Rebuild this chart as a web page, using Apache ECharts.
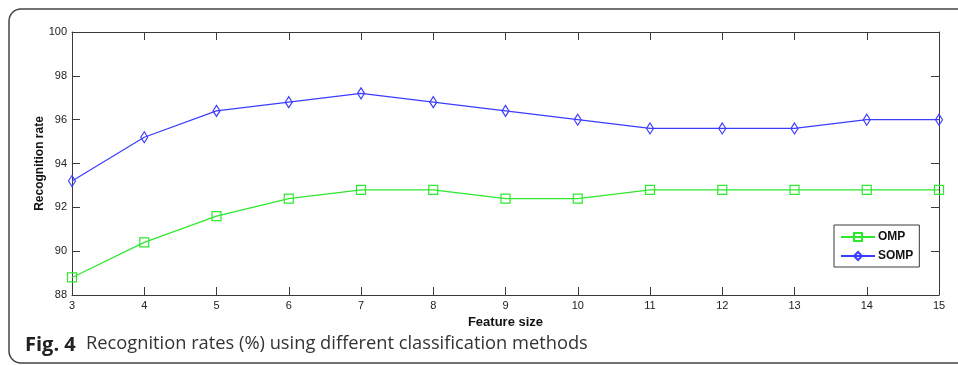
<!DOCTYPE html>
<html>
<head>
<meta charset="utf-8">
<script src="https://cdn.jsdelivr.net/npm/echarts@6/dist/echarts.min.js"></script>
<style>
  html, body { margin: 0; padding: 0; background: #fff; }
  #chart { width: 958px; height: 365px; }
</style>
</head>
<body>
<div id="chart"></div>
<script>
// feature sizes on the x axis
var featureSize = [3, 4, 5, 6, 7, 8, 9, 10, 11, 12, 13, 14, 15]
// recognition rate (%) per method
var ompRate = [88.8, 90.4, 91.6, 92.4, 92.8, 92.8, 92.4, 92.4, 92.8, 92.8, 92.8, 92.8, 92.8]
var sompRate = [93.2, 95.2, 96.4, 96.8, 97.2, 96.8, 96.4, 96.0, 95.6, 95.6, 95.6, 96.0, 96.0]

var greenColor = '#2ee82e'
var blueColor = '#3c3cff'
var axisColor = '#3a3a3a'

function pairs(xs, ys) {
    return xs.map(function(x, i) { return [x, ys[i]] })
}

function initChart() {
    var myChart = echarts.init(document.getElementById('chart'))

    var tickStyle = { inside: true, length: 8, lineStyle: { color: axisColor, width: 1 } }
    var lineStyle = { lineStyle: { color: axisColor, width: 1 } }

    var option = {
        animation: false,
        textStyle: { fontFamily: 'Liberation Sans, Arial, sans-serif' },
        grid: { left: 72, right: 19, top: 32, bottom: 70, containLabel: false },
        legend: {
            orient: 'vertical',
            left: 834,
            top: 225,
            padding: [6, 6, 5, 6],
            itemGap: 7,
            itemWidth: 34,
            itemHeight: 10,
            borderColor: axisColor,
            borderWidth: 1,
            backgroundColor: '#fff',
            textStyle: { fontSize: 12, fontWeight: 'bold', color: '#111', padding: [0, 0, 0, -2] },
            data: ['OMP', 'SOMP']
        },
        xAxis: [{
            type: 'value',
            min: 3,
            max: 15,
            interval: 1,
            name: 'Feature size',
            nameLocation: 'middle',
            nameGap: 19,
            nameTextStyle: { fontSize: 13, fontWeight: 'bold', color: '#111' },
            axisLine: lineStyle,
            axisTick: tickStyle,
            axisLabel: { fontSize: 11, color: '#222', margin: 5 },
            splitLine: { show: false }
        }, {
            type: 'value',
            position: 'top',
            min: 3,
            max: 15,
            interval: 1,
            axisLine: lineStyle,
            axisTick: tickStyle,
            axisLabel: { show: false },
            splitLine: { show: false }
        }],
        yAxis: [{
            type: 'value',
            min: 88,
            max: 100,
            interval: 2,
            name: 'Recognition rate',
            nameLocation: 'middle',
            nameGap: 26,
            nameMoveOverlap: false,
            nameTextStyle: { fontSize: 12, fontWeight: 'bold', color: '#111' },
            axisLine: { show: true, lineStyle: { color: axisColor, width: 1 } },
            axisTick: { show: true, inside: true, length: 8, lineStyle: { color: axisColor } },
            axisLabel: { fontSize: 11, color: '#222', margin: 5 },
            splitLine: { show: false }
        }, {
            type: 'value',
            position: 'right',
            min: 88,
            max: 100,
            interval: 2,
            axisLine: { show: true, lineStyle: { color: axisColor, width: 1 } },
            axisTick: { show: true, inside: true, length: 8, lineStyle: { color: axisColor } },
            axisLabel: { show: false },
            splitLine: { show: false }
        }],
        series: [{
            name: 'OMP',
            type: 'line',
            data: pairs(featureSize, ompRate),
            symbol: 'rect',
            symbolSize: 9,
            lineStyle: { color: greenColor, width: 1.2 },
            itemStyle: { color: 'rgba(255,255,255,0)', borderColor: greenColor, borderWidth: 1.2 }
        }, {
            name: 'SOMP',
            type: 'line',
            data: pairs(featureSize, sompRate),
            symbol: 'diamond',
            symbolSize: [7, 11],
            lineStyle: { color: blueColor, width: 1.2 },
            itemStyle: { color: 'rgba(255,255,255,0)', borderColor: blueColor, borderWidth: 1.2 }
        }],
        graphic: [{
            type: 'rect',
            shape: { x: 9, y: 9, width: 1000, height: 354, r: 12 },
            style: { fill: 'none', stroke: '#444', lineWidth: 1.5 },
            silent: true
        }, {
            type: 'text',
            left: 25,
            top: 335,
            style: { text: 'Fig. 4', fontFamily: 'Open Sans', fontWeight: 'bold', fontSize: 20, fill: '#222' }
        }, {
            type: 'text',
            left: 86,
            top: 335,
            style: { text: 'Recognition rates (%) using different classification methods', fontFamily: 'Open Sans', fontSize: 18.3, fill: '#333' }
        }]
    }
    myChart.setOption(option)
}

initChart()
</script>
</body>
</html>
